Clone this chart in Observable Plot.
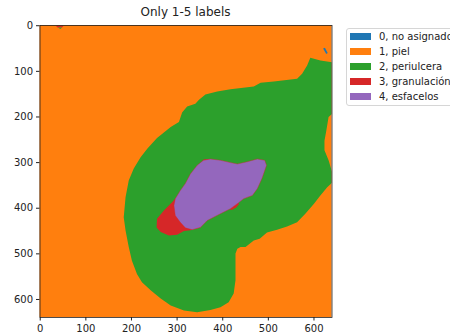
<!DOCTYPE html>
<html>
<head>
<meta charset="utf-8">
<script src="https://cdn.jsdelivr.net/npm/d3@7"></script>
<script src="https://cdn.jsdelivr.net/npm/@observablehq/plot@0.6"></script>
<style>
  html, body { margin: 0; padding: 0; background: #fff; overflow: hidden; }
  #wrap { position: relative; width: 450px; height: 336px; font-family: "DejaVu Sans", sans-serif; color: #222; }
  #title { position: absolute; left: 0; width: 371px; top: 5px; text-align: center; font-size: 12px; line-height: 14px; }
  #legend { position: absolute; left: 346px; top: 28px; width: 160px; height: 76px; border: 1px solid #d6d6d6; border-radius: 3px; background: #fff; }
  .row { position: absolute; left: 3px; height: 15px; font-size: 10px; line-height: 15px; white-space: nowrap; }
  .patch { position: absolute; left: 0; top: 4px; width: 21px; height: 7px; }
  .lab { position: absolute; left: 29px; top: 0; }
</style>
</head>
<body>
<div id="wrap">
  <div id="title"></div>
  <div id="legend"></div>
</div>
<script>
// ---- data (image pixel coordinates of a 640x640 label mask) ----
const titleText = "Only 1-5 labels";
const imageWidth = 640;
const imageHeight = 640;
const xTicks = [0, 100, 200, 300, 400, 500, 600];
const yTicks = [0, 100, 200, 300, 400, 500, 600];
const labelNames = ["0, no asignado", "1, piel", "2, periulcera", "3, granulación", "4, esfacelos"];
const labelColors = ["#1f77b4", "#ff7f0e", "#2ca02c", "#d62728", "#9467bd"];

// label 2: periulcera (outline)
const periulcera = [
  [220,288],[235,269],[256,246],[286,222],[304,211],[311,190],[322,177],[340,171],[348,162],
  [362,151],[388,144],[417,139],[468,133],[483,125],[512,122],[563,116],[574,105],[585,87],
  [592,70],[614,76],[641,80],[641,192],[632,200],[627,230],[623,252],[623,273],[632,295],
  [641,325],[641,343],[629,354],[614,372],[600,390],[581,412],[563,431],[541,440],[519,447],
  [497,453],[481,467],[468,471],[450,485],[439,485],[432,489],[428,499],[428,529],[428,558],
  [424,587],[413,606],[395,617],[373,623],[344,628],[315,624],[286,613],[264,598],[242,580],
  [223,562],[212,544],[201,515],[194,485],[187,449],[183,420],[187,376],[194,339],[205,313]
];
// label 3: granulación (outline of main patch + small patch)
const granulacion = [
  [370,292],[358,293],[347,308],[329,339],[311,361],[289,387],[271,405],[256,423],[255,442],
  [264,452],[282,460],[300,458],[315,450],[329,448],[351,442],[395,361]
];
const granulacionSmall = [[415,402],[419,395],[425,389],[432,387],[436,391],[430,398],[420,404]];
const granulacionTop = [[34,0],[51,0],[48,4],[38,4]];
const periulceraTop = [[39,4],[48,4],[44,7]];
// label 4: esfacelos
const esfacelos = [
  [358,295],[373,292],[395,295],[417,300],[432,303],[454,298],[476,292],[492,295],[496,306],
  [486,335],[476,357],[465,372],[446,379],[432,390],[417,401],[395,412],[366,427],[351,442],
  [333,447],[318,443],[307,431],[296,416],[293,394],[296,379],[307,361],[318,346],[329,325],[344,306]
];
// label 0: no asignado (small streak)
const noAsignado = [[620,50],[624,48],[630,60],[627,62]];

// ---- title & legend ----
document.getElementById("title").textContent = titleText;
const legend = document.getElementById("legend");
labelNames.forEach((name, i) => {
  const row = document.createElement("div");
  row.className = "row";
  row.style.top = (i * 15) + "px";
  const p = document.createElement("div");
  p.className = "patch";
  p.style.background = labelColors[i];
  const t = document.createElement("div");
  t.className = "lab";
  t.textContent = name;
  row.appendChild(p); row.appendChild(t);
  legend.appendChild(row);
});

// ---- chart ----
const extent = [{x1: -0.5, x2: imageWidth - 0.5, y1: -0.5, y2: imageHeight - 0.5}];
const poly = (pts, color, extra = {}) => Plot.line(pts, {
  x: d => d[0], y: d => d[1], curve: "linear-closed",
  fill: color, stroke: "none", clip: true, ...extra
});

const chart = Plot.plot({
  width: 450,
  height: 336,
  marginLeft: 39.5,
  marginRight: 118.5,
  marginTop: 25,
  marginBottom: 19,
  style: {fontFamily: "DejaVu Sans, sans-serif", fontSize: "10px", color: "#222", background: "transparent"},
  x: {domain: [-0.5, imageWidth - 0.5]},
  y: {domain: [-0.5, imageHeight - 0.5], reverse: true},
  marks: [
    Plot.rect(extent, {x1: "x1", x2: "x2", y1: "y1", y2: "y2", fill: labelColors[1]}),
    poly(periulcera, labelColors[2]),
    poly(granulacion, labelColors[3]),
    poly(granulacionSmall, labelColors[3]),
    poly(esfacelos, labelColors[4], {stroke: labelColors[3], strokeWidth: 0.7, strokeOpacity: 0.6}),
    poly(granulacionTop, labelColors[3]),
    poly(periulceraTop, labelColors[2]),
    poly(noAsignado, labelColors[0]),
    Plot.frame({stroke: "#222", strokeWidth: 0.8}),
    Plot.axisX({ticks: xTicks, anchor: "bottom", tickSize: 3.5, tickPadding: 3.5, label: null, stroke: "#222"}),
    Plot.axisY({ticks: yTicks, anchor: "left", tickSize: 3.5, tickPadding: 3.5, label: null, stroke: "#222"})
  ]
});
chart.style.position = "absolute";
chart.style.left = "0px";
chart.style.top = "0px";
document.getElementById("wrap").insertBefore(chart, document.getElementById("title"));
</script>
</body>
</html>
